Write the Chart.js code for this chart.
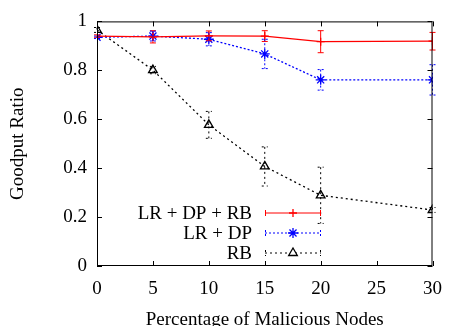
<!DOCTYPE html>
<html>
<head>
<meta charset="utf-8">
<script src="https://cdn.jsdelivr.net/npm/chart.js@4.4.1/dist/chart.umd.min.js"></script>
<style>
  html, body { margin: 0; padding: 0; background: #fff; }
  #box { width: 454px; height: 326px; }
</style>
</head>
<body>
<div id="box"><canvas id="goodput"></canvas></div>
<script>
// data
var nodesPct = [0, 5, 10, 15, 20, 30];
var xTicks = [0, 5, 10, 15, 20, 25, 30];
var yTicks = [0, 0.2, 0.4, 0.6, 0.8, 1];

var labels = ["LR + DP + RB", "LR + DP", "RB"];
var lrDpRb = [0.94, 0.937, 0.941, 0.94, 0.917, 0.919];
var lrDpRbErr = [0.005, 0.025, 0.02, 0.022, 0.045, 0.036];
var lrDp = [0.935, 0.94, 0.927, 0.867, 0.761, 0.761];
var lrDpErr = [0.005, 0.02, 0.027, 0.06, 0.042, 0.062];
var rb = [0.965, 0.801, 0.577, 0.407, 0.289, 0.229];
var rbErr = [0.01, 0.015, 0.055, 0.08, 0.115, 0.01];

var serif = "'Liberation Serif', 'Times New Roman', serif";

function pts(vals) {
    return nodesPct.map((x, i) => ({x: x, y: vals[i]}));
}

var seriesStyle = [
    {color: "#ff0000", dash: [], point: "cross", radius: 4, err: lrDpRbErr},
    {color: "#0000ff", dash: [2, 2], point: "star", radius: 5, err: lrDpErr},
    {color: "#000000", dash: [2, 3], point: "triangle", radius: 5, err: rbErr}
];

//error bars drawn through the scales
const errorBars = {
    id: "errorBars",
    afterDatasetsDraw(chart) {
        const ctx = chart.ctx;
        const xs = chart.scales.x, ys = chart.scales.y;
        chart.data.datasets.forEach((ds, d) => {
            const st = seriesStyle[d];
            ctx.save();
            ctx.strokeStyle = st.color;
            ctx.lineWidth = 1;
            ctx.setLineDash(st.dash);
            ds.data.forEach((p, i) => {
                const px = xs.getPixelForValue(p.x);
                const top = ys.getPixelForValue(p.y + st.err[i]);
                const bot = ys.getPixelForValue(p.y - st.err[i]);
                ctx.beginPath();
                ctx.moveTo(px, top); ctx.lineTo(px, bot);
                ctx.moveTo(px - 3, top); ctx.lineTo(px + 3, top);
                ctx.moveTo(px - 3, bot); ctx.lineTo(px + 3, bot);
                ctx.stroke();
            });
            ctx.restore();
        });
    }
};

//frame with inward ticks on all sides
const frame = {
    id: "frame",
    afterDraw(chart) {
        const ctx = chart.ctx;
        const a = chart.chartArea;
        const xs = chart.scales.x, ys = chart.scales.y;
        ctx.save();
        ctx.strokeStyle = "#000";
        ctx.lineWidth = 1;
        ctx.strokeRect(a.left + 0.5, a.top + 0.5, a.right - a.left - 1, a.bottom - a.top - 1);
        ctx.beginPath();
        xTicks.forEach(v => {
            const px = Math.round(xs.getPixelForValue(v)) + 0.5;
            ctx.moveTo(px, a.bottom); ctx.lineTo(px, a.bottom - 5);
            ctx.moveTo(px, a.top); ctx.lineTo(px, a.top + 5);
        });
        yTicks.forEach(v => {
            const py = Math.round(ys.getPixelForValue(v)) + 0.5;
            ctx.moveTo(a.left, py); ctx.lineTo(a.left + 5, py);
            ctx.moveTo(a.right, py); ctx.lineTo(a.right - 5, py);
        });
        ctx.stroke();
        ctx.restore();
    }
};

//legend: text on the left, sample on the right
const sideLegend = {
    id: "sideLegend",
    afterDraw(chart) {
        const ctx = chart.ctx;
        ctx.save();
        ctx.font = "19px " + serif;
        ctx.textAlign = "right";
        ctx.textBaseline = "middle";
        labels.forEach((txt, i) => {
            const y = 213 + i * 20;
            const st = seriesStyle[i];
            ctx.fillStyle = "#000";
            ctx.fillText(txt, 252, y + 1);
            ctx.strokeStyle = st.color;
            ctx.lineWidth = 1;
            ctx.setLineDash(st.dash);
            ctx.beginPath();
            ctx.moveTo(265, y); ctx.lineTo(321, y);
            ctx.moveTo(265.5, y - 3); ctx.lineTo(265.5, y + 3);
            ctx.moveTo(320.5, y - 3); ctx.lineTo(320.5, y + 3);
            ctx.stroke();
            ctx.setLineDash([]);
            ctx.fillStyle = "#fff";
            ctx.lineWidth = 1.3;
            Chart.helpers.drawPoint(ctx, {pointStyle: st.point, radius: st.radius, borderWidth: 1.3}, 293, y);
        });
        ctx.restore();
    }
};

new Chart("goodput", {
    type: "line",
    data: {
        datasets: [lrDpRb, lrDp, rb].map((vals, i) => ({
            label: labels[i],
            data: pts(vals),
            borderColor: seriesStyle[i].color,
            backgroundColor: "rgba(0,0,0,0)",
            borderWidth: 1.3,
            borderDash: seriesStyle[i].dash,
            pointStyle: seriesStyle[i].point,
            pointRadius: seriesStyle[i].radius,
            pointBorderWidth: 1.3,
            pointBorderColor: seriesStyle[i].color,
            tension: 0,
            fill: false
        }))
    },
    options: {
        responsive: true,
        maintainAspectRatio: false,
        animation: false,
        layout: { padding: { top: 16, right: 13, left: 0, bottom: 0 } },
        plugins: { legend: { display: false }, tooltip: { enabled: false } },
        scales: {
            x: {
                type: "linear",
                min: 0, max: 30,
                afterBuildTicks: s => { s.ticks = xTicks.map(v => ({value: v})); },
                afterFit: s => { s.height = 60; },
                grid: { display: false, drawTicks: false },
                border: { display: false },
                ticks: { color: "#000", padding: 12, maxRotation: 0, font: { family: serif, size: 19 } },
                title: {
                    display: true, text: "Percentage of Malicious Nodes", color: "#000",
                    font: { family: serif, size: 19, lineHeight: 1 }, padding: { top: 0, bottom: -4 }
                }
            },
            y: {
                min: 0, max: 1,
                afterBuildTicks: s => { s.ticks = yTicks.map(v => ({value: v})); },
                afterFit: s => { s.width = 97; },
                grid: { display: false, drawTicks: false },
                border: { display: false },
                ticks: { color: "#000", padding: 10, callback: v => String(+v.toFixed(1)), font: { family: serif, size: 19 } },
                title: {
                    display: true, text: "Goodput Ratio", color: "#000",
                    font: { family: serif, size: 19, lineHeight: 1 }, padding: { top: 9, bottom: 0 }
                }
            }
        }
    },
    plugins: [errorBars, frame, sideLegend]
});
</script>
</body>
</html>
